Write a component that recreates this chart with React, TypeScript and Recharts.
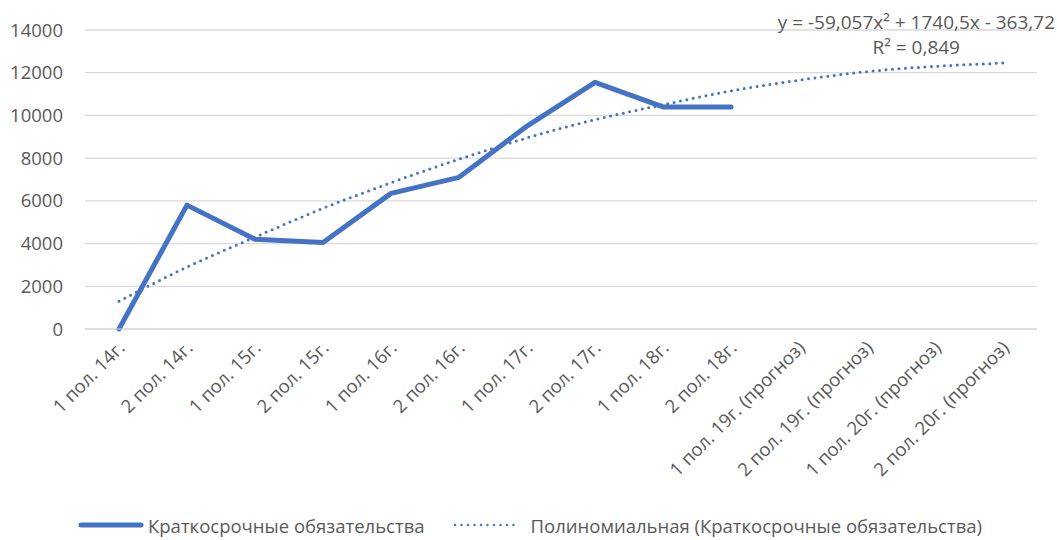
import React from 'react';
import {
  LineChart,
  Line,
  XAxis,
  YAxis,
  CartesianGrid,
  Legend,
  Customized,
} from 'recharts';

const periods = [
  '1 пол. 14г.',
  '2 пол. 14г.',
  '1 пол. 15г.',
  '2 пол. 15г.',
  '1 пол. 16г.',
  '2 пол. 16г.',
  '1 пол. 17г.',
  '2 пол. 17г.',
  '1 пол. 18г.',
  '2 пол. 18г.',
  '1 пол. 19г. (прогноз)',
  '2 пол. 19г. (прогноз)',
  '1 пол. 20г. (прогноз)',
  '2 пол. 20г. (прогноз)',
];

const shortTerm = [0, 5800, 4200, 4050, 6350, 7100, 9500, 11550, 10400, 10400, null, null, null, null];

// trend values
const trend = [1300, 2900, 4300, 5650, 6850, 7950, 8950, 9800, 10500, 11150, 11650, 12050, 12300, 12450];

const yTicks = [0, 2000, 4000, 6000, 8000, 10000, 12000, 14000];

const seriesName = 'Краткосрочные обязательства';
const trendName = 'Полиномиальная (Краткосрочные обязательства)';
const equation = 'y = -59,057x² + 1740,5x - 363,72';
const rSquared = 'R² = 0,849';

const data = periods.map((p, i) => ({ period: p, value: shortTerm[i], trend: trend[i] }));

const FONT = '"Open Sans", sans-serif';
const TEXT = '#595959';
const BLUE = '#4472C4';

const XTick = (props: any) => {
  const { x, y, payload } = props;
  return (
    <text
      x={x + 7}
      y={y + 12}
      transform={`rotate(-45, ${x + 7}, ${y + 12})`}
      textAnchor="end"
      fill={TEXT}
      fontSize={18.5}
      fontFamily={FONT}
    >
      {payload.value}
    </text>
  );
};

const LegendContent = () => (
  <div style={{ display: 'flex', justifyContent: 'flex-start', alignItems: 'center', height: 30, fontFamily: FONT, fontSize: 18.5, color: TEXT }}>
    <svg width={66} height={10} style={{ marginLeft: 78 }}>
      <line x1={3} y1={5} x2={63} y2={5} stroke={BLUE} strokeWidth={5} strokeLinecap="round" />
    </svg>
    <span style={{ marginLeft: 4 }}>{seriesName}</span>
    <svg width={66} height={10} style={{ marginLeft: 28 }}>
      <line x1={2} y1={5} x2={64} y2={5} stroke={BLUE} strokeWidth={2.5} strokeDasharray="0 6.5" strokeLinecap="round" />
    </svg>
    <span style={{ marginLeft: 12 }}>{trendName}</span>
  </div>
);

const TrendLabel = () => (
  <g fontFamily={FONT} fontSize={19} fill={TEXT}>
    <text x={1055} y={29} textAnchor="end">{equation}</text>
    <text x={960} y={54} textAnchor="end">{rSquared}</text>
  </g>
);

export default function App() {
  return (
    <div style={{ position: 'absolute', left: 0, top: 0, width: 1057, height: 540, background: '#fff' }}>
      <LineChart width={1057} height={540} data={data} margin={{ top: 30, right: 20, bottom: 0, left: 0 }}>
        <CartesianGrid vertical={false} stroke="#d9d9d9" strokeWidth={1.3} />
        <XAxis
          dataKey="period"
          interval={0}
          height={181}
          padding={{ left: 34, right: 34 }}
          axisLine={{ stroke: '#d9d9d9' }}
          tickLine={false}
          tick={<XTick />}
        />
        <YAxis
          width={85}
          domain={[0, 14000]}
          ticks={yTicks}
          axisLine={false}
          tickLine={false}
          tickMargin={16}
          tick={{ fill: TEXT, fontSize: 18.5, fontFamily: FONT }}
        />
        <Line
          dataKey="value"
          name={seriesName}
          stroke={BLUE}
          strokeWidth={5}
          dot={false}
          strokeLinecap="round"
          strokeLinejoin="round"
          isAnimationActive={false}
        />
        <Line
          type="monotone"
          dataKey="trend"
          name={trendName}
          stroke={BLUE}
          strokeWidth={3}
          strokeDasharray="0 6.5"
          strokeLinecap="round"
          dot={false}
          isAnimationActive={false}
        />
        <Legend verticalAlign="bottom" height={30} content={<LegendContent />} wrapperStyle={{ left: 0, width: 1057 }} />
        <Customized component={TrendLabel} />
      </LineChart>
    </div>
  );
}
